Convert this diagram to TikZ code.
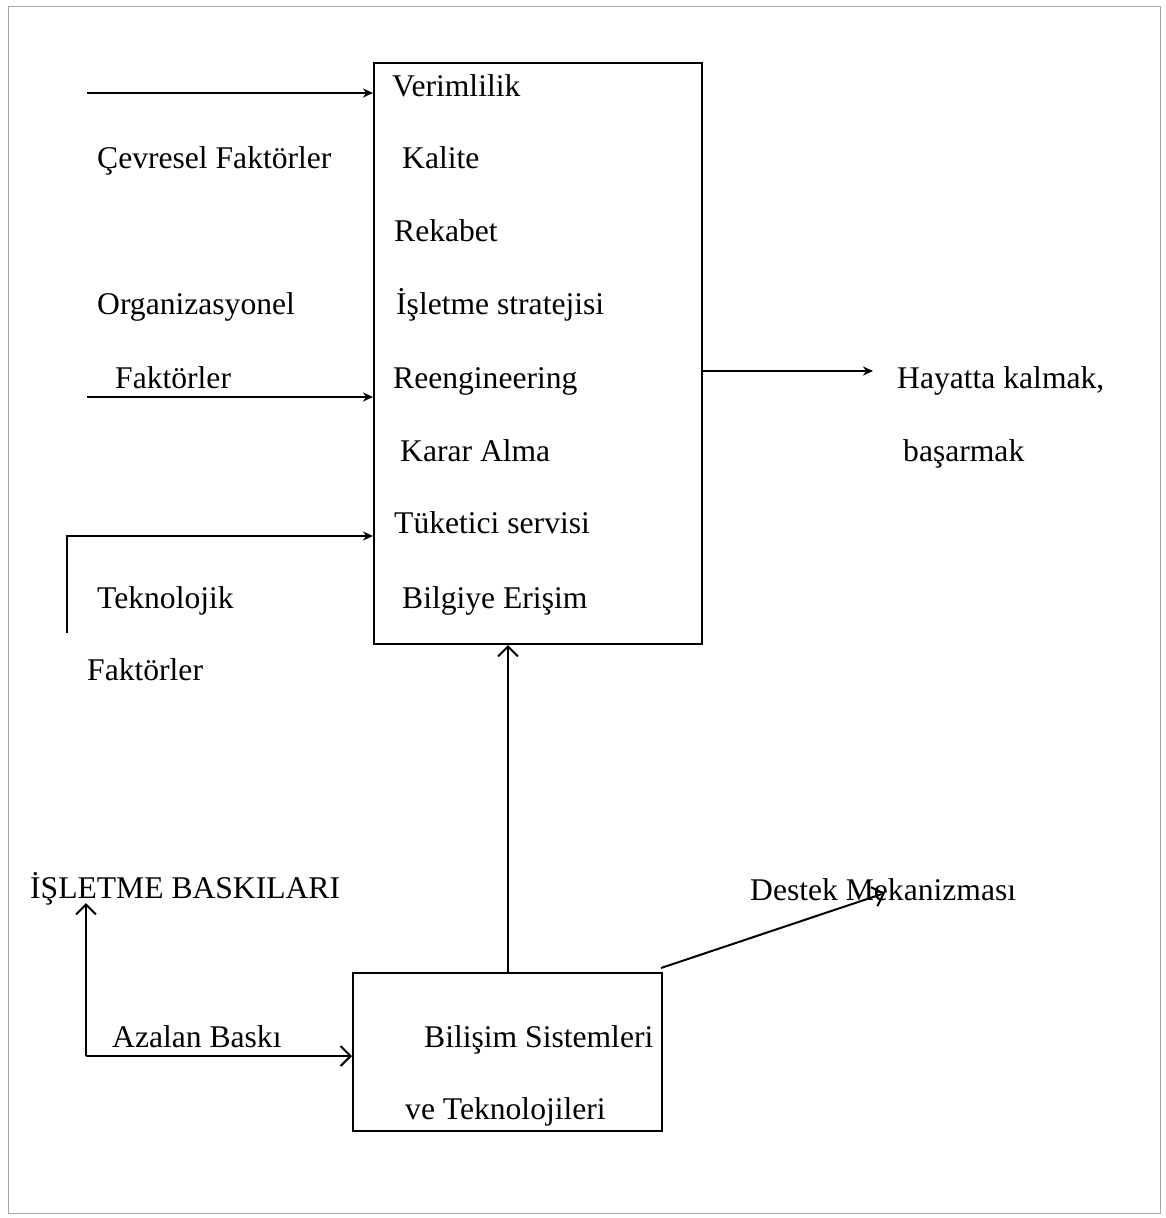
\documentclass[tikz,border=0pt]{standalone}
\usepackage{fontspec}
\setmainfont{Liberation Serif}
\usetikzlibrary{arrows.meta}
\begin{document}
\begin{tikzpicture}[x=1pt,y=-1pt,
  lbl/.style={anchor=base west,inner sep=0pt,font=\fontsize{31.6}{37}\selectfont},
  boxs/.style={draw,line width=2pt,inner sep=0pt,anchor=north west},
  conn/.style={line width=2pt},
  filt/.style={conn,-{Stealth[length=10pt,width=9pt]}},
  opent/.style={conn,-{Straight Barb[length=10pt,width=20pt,line width=2pt]}}]
\useasboundingbox (0,0) rectangle (1166,1218);
\draw[gray!70,line width=1pt] (8,6) rectangle (1160,1213);
% main box
\node[boxs,minimum width=328pt,minimum height=581pt] (main) at (373,62) {};
\node[lbl] (t1) at (392,96) {Verimlilik};
\node[lbl] (t2) at (402,168) {Kalite};
\node[lbl] (t3) at (394,241) {Rekabet};
\node[lbl] (t4) at (396,314) {İşletme stratejisi};
\node[lbl] (t5) at (393,388) {Reengineering};
\node[lbl] (t6) at (400,461) {Karar Alma};
\node[lbl] (t7) at (394,533) {Tüketici servisi};
\node[lbl] (t8) at (402,608) {Bilgiye Erişim};
% left labels
\node[lbl] (cf) at (97,168) {Çevresel Faktörler};
\node[lbl] (of1) at (97,314) {Organizasyonel};
\node[lbl] (of2) at (115,388) {Faktörler};
\node[lbl] (tf1) at (97,608) {Teknolojik};
\node[lbl] (tf2) at (87,680) {Faktörler};
% right labels
\node[lbl] (h1) at (897,388) {Hayatta kalmak,};
\node[lbl] (h2) at (903,461) {başarmak};
% bottom
\node[boxs,minimum width=309pt,minimum height=158pt] (bis) at (352,972) {};
\node[lbl] (b1) at (424,1047) {Bilişim Sistemleri};
\node[lbl] (b2) at (405,1119) {ve Teknolojileri};
\node[lbl] (ib) at (30,898) {İŞLETME BASKILARI};
\node[lbl] (ab) at (112,1047) {Azalan Baskı};
\node[lbl] (dm) at (750,900) {Destek Mekanizması};
% connector coordinates
\coordinate (s1) at (87,93);
\coordinate (s2) at (87,397);
\coordinate (s3) at (67,633);
\coordinate (s3b) at (67,536);
\coordinate (r1) at (873,371);
\coordinate (ibt) at (86,903);
\coordinate (abc) at (86,1056);
\coordinate (dmt) at (885,893);
\coordinate (dms) at (661,968);
% connectors
\draw[filt] (s1) -- (main.west |- s1);
\draw[filt] (s2) -- (main.west |- s2);
\draw[filt] (s3) -- (s3b) -- (main.west |- s3b);
\draw[filt] (main.east |- r1) -- (r1);
\draw[opent] (bis.north -| 508,0) -- (main.south -| 508,0);
\draw[opent] (abc) -- (ibt);
\draw[opent] (abc) -- (bis.west |- abc);
\draw[opent] (dms) -- (dmt);
\end{tikzpicture}
\end{document}
